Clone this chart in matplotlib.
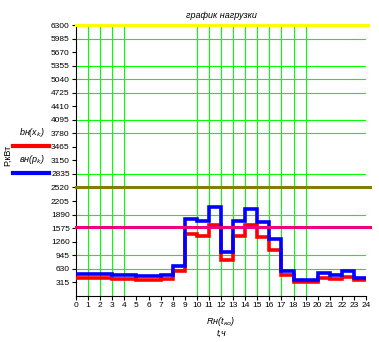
import matplotlib.pyplot as plt
from matplotlib.lines import Line2D
import numpy as np

# hours and the two load curves (step per hour)
hours = np.arange(0, 25)
load_blue = [500, 500, 500, 477, 477, 454, 454, 477, 693, 1793, 1747, 2058,
             1012, 1747, 2012, 1709, 1328, 584, 375, 375, 523, 484, 570, 421]
load_red = [407, 407, 407, 384, 384, 360, 360, 384, 577, 1437, 1398, 1647,
            826, 1398, 1647, 1361, 1065, 477, 321, 321, 414, 384, 444, 367]

# constant levels
level_yellow = 6300
level_olive = 2520
level_pink = 1590

y_ticks = np.arange(315, 6301, 315)
x_ticks = np.arange(0, 25)

# grid lines that survive in the picture
grid_x = [1, 2, 3, 4, 10, 11, 12, 13, 14, 15, 16, 17, 18, 19]
grid_y = [630, 945, 1890, 2835, 3780, 4095, 4725, 5040, 5355, 5985]

plt.rcParams['font.family'] = ['Liberation Sans', 'DejaVu Sans']

W, H = 379, 342
fig = plt.figure(figsize=(W / 100, H / 100), dpi=100)
ax = fig.add_axes([76 / W, 1 - 295.8 / H, 290 / W, 270.8 / H])

for gx in grid_x:
    ax.axvline(gx, color='#00ff00', lw=0.8, zorder=1)
for gy in grid_y:
    ax.axhline(gy, color='#00ff00', lw=0.8, zorder=1)

ax.stairs(load_red, hours, baseline=None, color='#ff0000', lw=2.6, zorder=3)
ax.stairs(load_blue, hours, baseline=None, color='#0000ff', lw=2.6, zorder=4)

ax.plot([0, 24.2], [level_yellow] * 2, color='#ffff00', lw=2.2, zorder=5, clip_on=False)
ax.plot([0, 24.3], [level_olive] * 2, color='#808000', lw=2.2, zorder=5, clip_on=False)
ax.plot([0, 24.3], [level_pink] * 2, color='#f0007f', lw=2.2, zorder=5, clip_on=False)

ax.set_xlim(0, 24)
ax.set_ylim(0, 6300)
ax.set_xticks(x_ticks)
ax.set_yticks(y_ticks)
ax.tick_params(direction='out', length=3, width=0.8, pad=1.5, labelsize=6)
for s in ['top', 'right']:
    ax.spines[s].set_visible(False)
for s in ['left', 'bottom']:
    ax.spines[s].set_linewidth(0.8)

# title and axis expressions (Mathcad style)
fig.text(221 / W, 1 - 15 / H, 'график нагрузки', ha='center', va='center',
         fontsize=6.5, style='italic')
fig.text(221 / W, 1 - 321 / H, 'Rн(t$_{ко}$)', ha='center', va='center',
         fontsize=6.5, style='italic')
fig.text(221 / W, 1 - 333 / H, 't,ч', ha='center', va='center',
         fontsize=6.5, style='italic')

fig.text(32 / W, 1 - 133 / H, 'bн(x$_k$)', ha='center', va='center',
         fontsize=6.5, style='italic')
fig.text(32 / W, 1 - 160 / H, 'вн(p$_k$)', ha='center', va='center',
         fontsize=6.5, style='italic')
fig.add_artist(Line2D([13 / W, 49 / W], [1 - 146 / H] * 2, color='#ff0000', lw=3))
fig.add_artist(Line2D([13 / W, 49 / W], [1 - 173 / H] * 2, color='#0000ff', lw=3))
fig.text(8 / W, 1 - 155 / H, 'P,кВт', ha='center', va='center',
         fontsize=6.5, rotation=90)

fig.savefig('out.png', dpi=100)
